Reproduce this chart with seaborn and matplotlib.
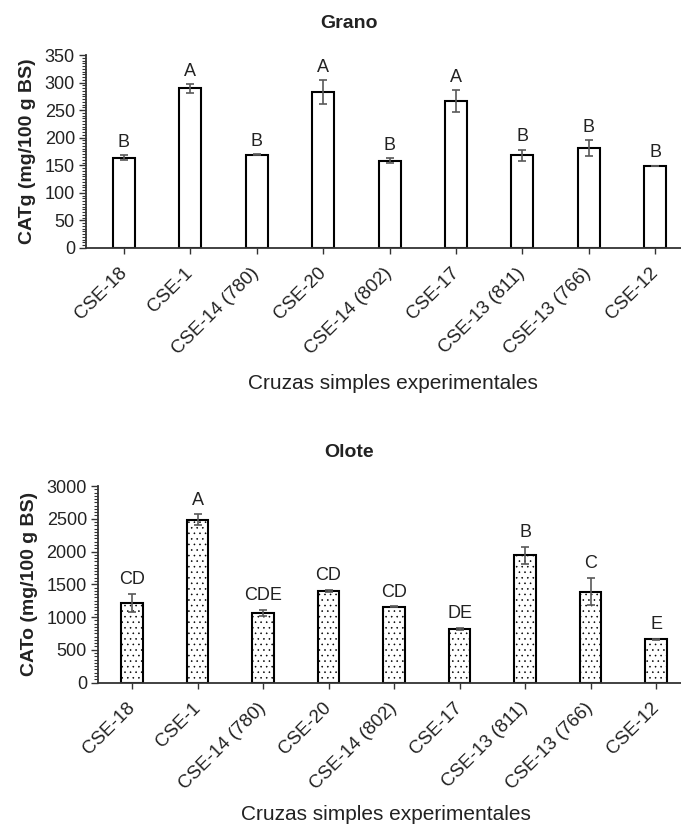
import numpy as np
import pandas as pd
import seaborn as sns
import matplotlib
matplotlib.use('Agg')
import matplotlib.pyplot as plt
from matplotlib.ticker import MultipleLocator, AutoMinorLocator

######################################
### Data

crosses = ['CSE-18', 'CSE-1', 'CSE-14 (780)', 'CSE-20', 'CSE-14 (802)',
           'CSE-17', 'CSE-13 (811)', 'CSE-13 (766)', 'CSE-12']

grano_mean = [163.5, 289.5, 169.5, 283.5, 158.5, 266.5, 168, 181, 149]
grano_err = [4.5, 8, 0.5, 21.5, 4, 20, 10.5, 14.5, 0.5]
grano_letters = ['B', 'A', 'B', 'A', 'B', 'A', 'B', 'B', 'B']

olote_mean = [1214, 2485, 1066, 1403, 1158, 821, 1944, 1388, 663]
olote_err = [138, 84, 46, 15, 5, 18, 130, 207, 8]
olote_letters = ['CD', 'A', 'CDE', 'CD', 'CD', 'DE', 'B', 'C', 'E']

xlab = 'Cruzas simples experimentales'

#####################################
### Plot

sns.set_style('ticks')
plt.rcParams['font.family'] = ['Liberation Sans', 'DejaVu Sans']
plt.rcParams['hatch.linewidth'] = 0.4
plt.rcParams['hatch.color'] = '#444444'
txt_col = '#222222'

fig = plt.figure(figsize=(6.81, 8.26), dpi=100)
ax1 = fig.add_axes([0.1263, 0.6998, 0.8737, 0.2336])
ax2 = fig.add_axes([0.1439, 0.1737, 0.8561, 0.2379])

panels = [
    (ax1, grano_mean, grano_err, grano_letters, 'CATg (mg/100 g BS)', 'Grano',
     350, 50, (-0.572, 8.39), None, 3, 0.972),
    (ax2, olote_mean, olote_err, olote_letters, 'CATo (mg/100 g BS)', 'Olote',
     3000, 500, (-0.519, 8.38), '...', 4, 0.452),
]

for ax, mean, err, letters, ylab, title, ymax, ystep, xlim, hatch, pad, ty in panels:
    df = pd.DataFrame({'cross': crosses, 'val': mean, 'err': err})
    sns.barplot(x='cross', y='val', data=df, order=crosses, color='white',
                edgecolor='black', linewidth=1.5, width=0.33, errorbar=None,
                saturation=1, ax=ax)
    if hatch:
        for p in ax.patches:
            p.set_hatch(hatch)
            p.set_edgecolor('black')
    xs = np.arange(len(crosses))
    ax.errorbar(xs, df['val'], yerr=df['err'], fmt='none', ecolor='#595959',
                elinewidth=1.2, capsize=3, capthick=1.2, zorder=5)
    for x, m, e, lab in zip(xs, mean, err, letters):
        ax.annotate(lab, (x, m + e), xytext=(0, pad), textcoords='offset points',
                    ha='center', va='bottom', fontsize=13, color=txt_col)

    ax.set_ylim(0, ymax)
    ax.set_xlim(*xlim)
    ax.yaxis.set_major_locator(MultipleLocator(ystep))
    ax.yaxis.set_minor_locator(AutoMinorLocator(10))
    ax.tick_params(axis='y', which='major', length=5, width=1, labelsize=13,
                   labelcolor=txt_col, color='#333333', pad=3)
    ax.tick_params(axis='y', which='minor', length=3, width=0.8, color='#333333')
    ax.tick_params(axis='x', which='major', length=4, width=1, labelsize=13.5,
                   labelcolor=txt_col, color='#333333', pad=1)
    plt.setp(ax.get_xticklabels(), rotation=45, ha='right', va='center',
             rotation_mode='anchor')
    for lbl in ax.get_xticklabels():
        lbl.set_y(-0.08)

    sns.despine(ax=ax)
    for s in ['left', 'bottom']:
        ax.spines[s].set_color('#333333')
        ax.spines[s].set_linewidth(1.3)

    ax.set_ylabel(ylab, fontsize=14, fontweight='bold', color=txt_col, labelpad=6)
    ax.set_xlabel('')
    fig.text(0.5125, ty, title, ha='center', va='center', fontsize=14,
             fontweight='bold', color=txt_col)

fig.text(393 / 681, 1 - 383 / 826, xlab, ha='center', va='center', fontsize=15, color=txt_col)
fig.text(386 / 681, 1 - 814 / 826, xlab, ha='center', va='center', fontsize=15, color=txt_col)

fig.savefig('out.png', dpi=100)
